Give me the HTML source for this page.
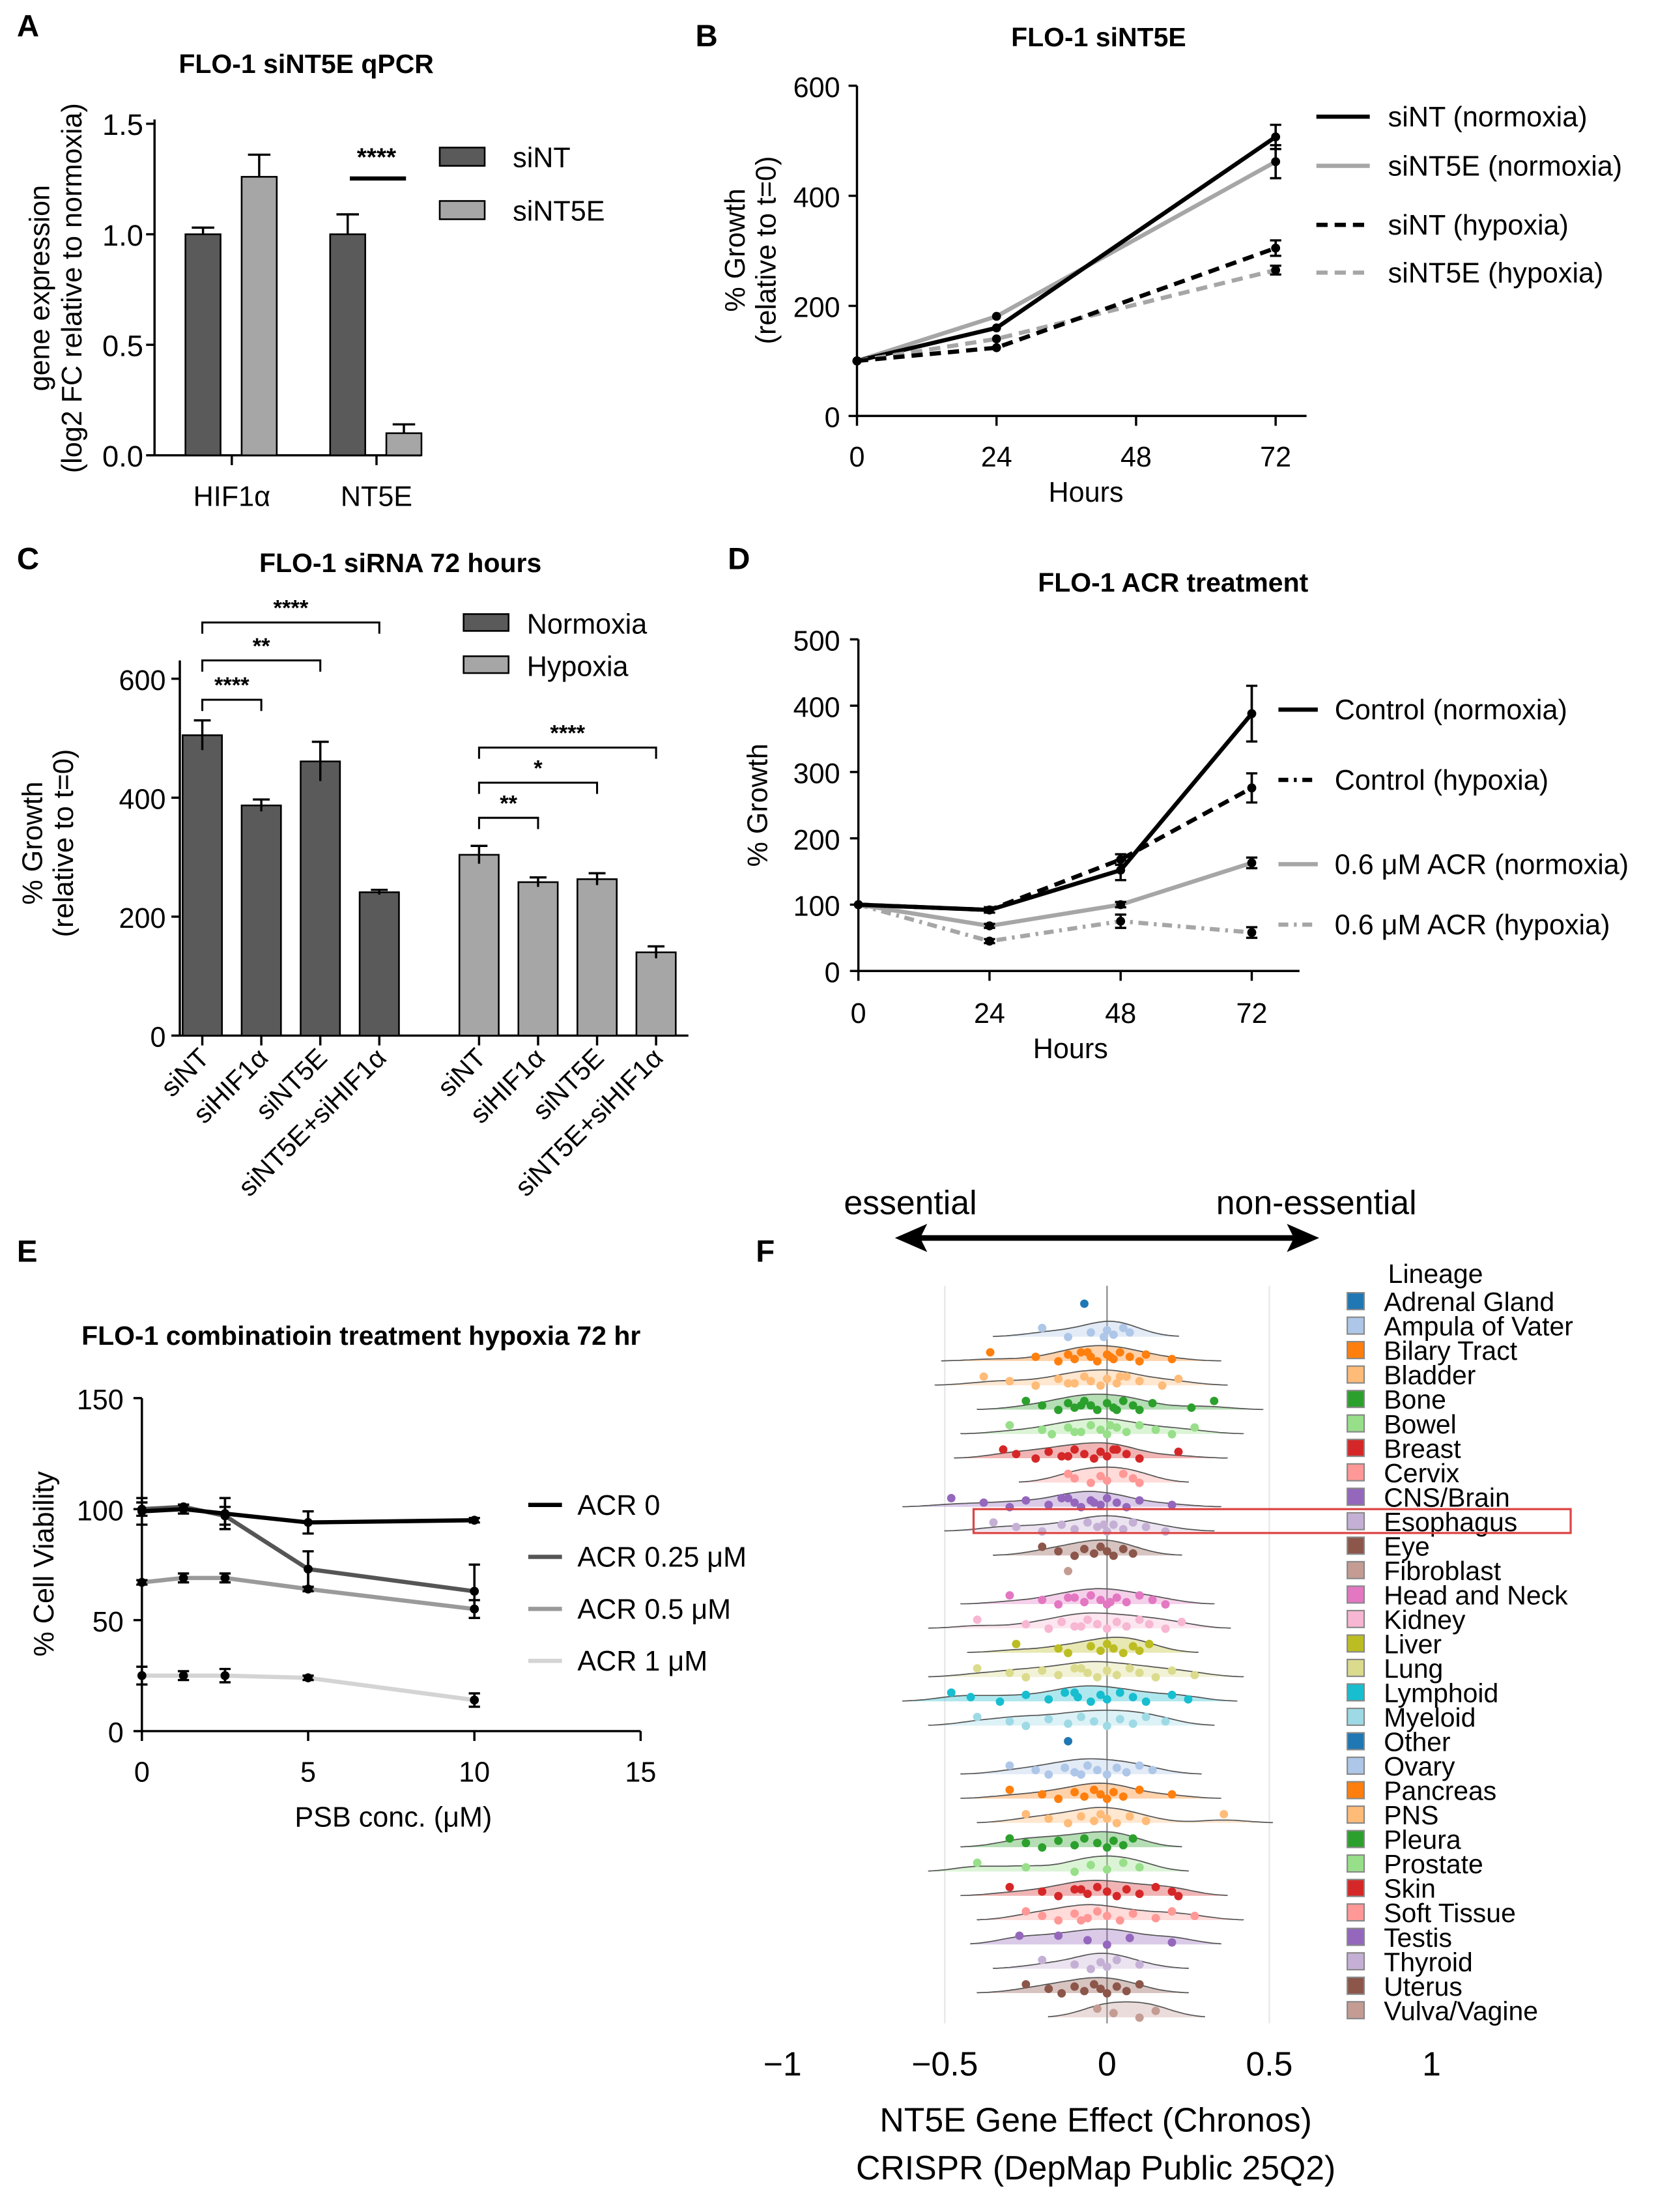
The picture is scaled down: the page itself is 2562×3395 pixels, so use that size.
<!DOCTYPE html>
<html><head><meta charset="utf-8"><style>
html,body{margin:0;padding:0;background:#fff}
svg{display:block;font-family:"Liberation Sans",sans-serif}
</style></head><body>
<svg id="fig" width="2562" height="3395" viewBox="0 0 1188 1574.2" xmlns="http://www.w3.org/2000/svg">
<rect width="1188" height="1575" fill="#fff"/>
<g font-weight="bold" font-size="22">
<text x="12" y="26">A</text>
<text x="495" y="33">B</text>
<text x="12" y="405">C</text>
<text x="518" y="405">D</text>
<text x="12" y="898">E</text>
<text x="538" y="898">F</text>
</g>
<g id="A"></g>
<g id="B"></g>
<g id="C"></g>
<g id="D"></g>
<g id="E"></g>
<g id="F"></g>
</svg>
<script>
const NS="http://www.w3.org/2000/svg";
function mk(tag,attrs,parent,txt){const e=document.createElementNS(NS,tag);for(const k in attrs)e.setAttribute(k,attrs[k]);if(txt!==undefined)e.textContent=txt;parent.appendChild(e);return e;}

// ---------- Panel A data ----------
const aCats=["HIF1\u03b1","NT5E"];
const aSiNT=[1.0,1.0];
const aSiNTErr=[0.03,0.09];
const aSiNT5E=[1.26,0.10];
const aSiNT5EErr=[0.10,0.04];
const aTicks=[0,0.5,1.0,1.5];
const aTickLabels=["0.0","0.5","1.0","1.5"];
// ---------- Panel B data ----------
const bHours=[0,24,72];
const bSiNTNorm=[100,160,507];
const bSiNT5ENorm=[100,181,462];
const bSiNTHyp=[100,124,305];
const bSiNT5EHyp=[100,140,265];
const bErr72=[22,30,14,8];
const bYTicks=[0,200,400,600];
const bXTicks=[0,24,48,72];
// ---------- Panel C data ----------
const cCats=["siNT","siHIF1\u03b1","siNT5E","siNT5E+siHIF1\u03b1"];
const cNorm=[505,387,461,241];
const cNormErr=[25,10,33,4];
const cHyp=[304,258,263,140];
const cHypErr=[15,8,10,10];
const cYTicks=[0,200,400,600];
// ---------- Panel D data ----------
const dHours=[0,24,48,72];
const dCtrlNorm=[100,92,152,388];
const dCtrlNormErr=[0,4,15,42];
const dCtrlHyp=[100,92,168,276];
const dCtrlHypErr=[0,4,8,22];
const dAcrNorm=[100,68,100,163];
const dAcrNormErr=[0,3,4,8];
const dAcrHyp=[100,45,75,58];
const dAcrHypErr=[0,3,10,8];
const dYTicks=[0,100,200,300,400,500];
// ---------- Panel E data ----------
const eConc=[0,1.25,2.5,5,10];
const eAcr0=[99,100,98,94,95];
const eAcr0Err=[6,2,7,5,1];
const eAcr025=[100,101,97,73,63];
const eAcr025Err=[3,1,4,8,12];
const eAcr05=[67,69,69,64,55];
const eAcr05Err=[1,2,2,1,4];
const eAcr1=[25,25,25,24,14];
const eAcr1Err=[4,2,3,1,3];
const eXTicks=[0,5,10,15];
const eYTicks=[0,50,100,150];
// ---------- Panel F data ----------
const fLineages=["Adrenal Gland","Ampula of Vater","Bilary Tract","Bladder","Bone","Bowel","Breast","Cervix","CNS/Brain","Esophagus","Eye","Fibroblast","Head and Neck","Kidney","Liver","Lung","Lymphoid","Myeloid","Other","Ovary","Pancreas","PNS","Pleura","Prostate","Skin","Soft Tissue","Testis","Thyroid","Uterus","Vulva/Vagine"];
const fColors=["#1f77b4","#aec7e8","#ff7f0e","#ffbb78","#2ca02c","#98df8a","#d62728","#ff9896","#9467bd","#c5b0d5","#8c564b","#c49c94","#e377c2","#f7b6d2","#bcbd22","#dbdb8d","#17becf","#9edae5","#1f77b4","#aec7e8","#ff7f0e","#ffbb78","#2ca02c","#98df8a","#d62728","#ff9896","#9467bd","#c5b0d5","#8c564b","#c49c94"];
const fValues=[
[-0.07],
[-0.2,-0.05,-0.01,0.0,0.02,0.05,0.07,-0.12],
[-0.36,-0.22,-0.15,-0.12,-0.1,-0.08,-0.05,-0.03,0,0.02,0.04,0.07,0.1,0.12,0.2,-0.06,0.01],
[-0.38,-0.3,-0.22,-0.15,-0.1,-0.07,-0.05,-0.02,0,0.03,0.06,0.1,0.17,0.22,-0.12,0.04],
[-0.25,-0.2,-0.15,-0.12,-0.1,-0.07,-0.05,-0.03,0,0.02,0.05,0.08,0.1,0.14,0.26,0.33,-0.08,0.03],
[-0.3,-0.2,-0.17,-0.12,-0.08,-0.05,-0.02,0,0.03,0.06,0.1,0.15,0.2,0.27,-0.1,0.01],
[-0.32,-0.28,-0.22,-0.18,-0.14,-0.1,-0.07,-0.04,-0.02,0,0.03,0.06,0.1,0.22,-0.12,0.02],
[-0.12,-0.1,-0.05,-0.02,0.0,0.05,0.08,0.1],
[-0.48,-0.38,-0.3,-0.25,-0.18,-0.14,-0.1,-0.08,-0.05,-0.02,0,0.03,0.06,0.1,0.2,-0.12,-0.04],
[-0.35,-0.28,-0.2,-0.14,-0.1,-0.06,-0.03,0,0.02,0.05,0.08,0.12,0.18,-0.01],
[-0.2,-0.15,-0.1,-0.07,-0.04,-0.02,0,0.02,0.05,0.08],
[-0.12],
[-0.3,-0.2,-0.15,-0.1,-0.07,-0.05,-0.02,0,0.03,0.06,0.1,0.14,0.18,-0.12,0.01],
[-0.4,-0.25,-0.18,-0.14,-0.1,-0.06,-0.03,0,0.03,0.06,0.1,0.13,0.18,0.23,-0.08],
[-0.28,-0.15,-0.12,-0.05,-0.02,0,0.02,0.05,0.08,0.1,0.13],
[-0.4,-0.3,-0.25,-0.2,-0.15,-0.1,-0.06,-0.03,0,0.03,0.07,0.1,0.15,0.2,0.27,-0.08],
[-0.48,-0.42,-0.33,-0.25,-0.18,-0.13,-0.09,-0.05,-0.02,0,0.04,0.08,0.12,0.2,0.25,-0.1],
[-0.4,-0.3,-0.25,-0.18,-0.12,-0.08,-0.04,0,0.04,0.08,0.12,0.18],
[-0.12],
[-0.3,-0.22,-0.18,-0.13,-0.1,-0.06,-0.03,0,0.03,0.06,0.1,0.14,-0.08],
[-0.3,-0.2,-0.15,-0.1,-0.07,-0.04,-0.02,0,0.02,0.05,0.1,0.2],
[-0.25,-0.18,-0.12,-0.08,-0.04,-0.02,0,0.03,0.07,0.12,0.36],
[-0.3,-0.25,-0.2,-0.15,-0.1,-0.07,-0.03,0,0.02,0.05,0.08],
[-0.4,-0.25,-0.1,-0.05,0,0.05,0.1],
[-0.3,-0.2,-0.15,-0.1,-0.06,-0.03,0,0.03,0.06,0.1,0.15,0.2,0.22,-0.08],
[-0.25,-0.2,-0.15,-0.1,-0.06,-0.03,0,0.04,0.08,0.15,0.2,0.27,-0.08],
[-0.27,-0.06,0.0,0.07,0.2,-0.15],
[-0.2,-0.1,-0.05,-0.02,0,0.03,0.1],
[-0.25,-0.18,-0.14,-0.1,-0.07,-0.04,-0.02,0,0.03,0.06,0.1],
[-0.03,0.02,0.1,0.15]
];

// ---------- generic helpers ----------
function errBar(g,x,y1,y2,cap,color){
  const l=mk("line",{x1:x,y1:y1,x2:x,y2:y2,stroke:color,"stroke-width":1.6},g);
  
  
  const c=mk("line",{x1:x-cap,y1:y2,x2:x+cap,y2:y2,stroke:color,"stroke-width":1.6},g);
  
  
}
function txt(g,x,y,s,size,anchor,extra){
  const a={x:x,y:y,"font-size":size,"text-anchor":anchor||"start"};
  if(extra)for(const k in extra)a[k]=extra[k];
  return mk("text",a,g,s);
}
function series(g,xs,ys,errs,X,Y,color,dash,name,sw,lastCapOnly){
  const pts=xs.map((x,i)=>X(x)+","+Y(ys[i])).join(" ");
  const pl=mk("polyline",{points:pts,fill:"none",stroke:color,"stroke-width":sw||3,"stroke-dasharray":dash||"none"},g);
  
  
  xs.forEach((x,i)=>{
    if(errs&&errs[i]){errBar(g,X(x),Y(ys[i]-errs[i]),Y(ys[i]+errs[i]),4,"#000");errBar(g,X(x),Y(ys[i]+errs[i]),Y(ys[i]-errs[i]),4,"#000");}
    const c=mk("circle",{cx:X(x),cy:Y(ys[i]),r:3.2,fill:"#000"},g);
    
    
  });
}
function axisLine(g,x1,y1,x2,y2,name){
  const l=mk("line",{x1:x1,y1:y1,x2:x2,y2:y2,stroke:"#000","stroke-width":1.6},g);
  
  
}

// ---------- Panel A ----------
(function(){
  const g=document.getElementById("A");
  const Y=v=>324-v*157.3;
  txt(g,218,52,"FLO-1 siNT5E qPCR",19,"middle",{"font-weight":"bold"});
  axisLine(g,110,85,110,324,"y-axis");
  axisLine(g,110,324,300,324,"x-axis");
  aTicks.forEach((t,i)=>{axisLine(g,104,Y(t),110,Y(t),"y-tick");txt(g,102,Y(t)+8,aTickLabels[i],21,"end");});
  const ty=txt(g,0,0,"gene expression",20,"middle",{transform:"translate(35,205) rotate(-90)"});
  
  
  txt(g,0,0,"(log2 FC relative to normoxia)",20,"middle",{transform:"translate(58,205) rotate(-90)"});
  const centers=[165,268];
  aCats.forEach((c,i)=>{
    const cx=centers[i];
    const b1=mk("rect",{x:cx-33,y:Y(aSiNT[i]),width:25,height:324-Y(aSiNT[i]),fill:"#5a5a5a",stroke:"#000","stroke-width":1.2},g);
    
    
    errBar(g,cx-20.5,Y(aSiNT[i]),Y(aSiNT[i]+aSiNTErr[i]),8,"#000");
    const b2=mk("rect",{x:cx+7,y:Y(aSiNT5E[i]),width:25,height:324-Y(aSiNT5E[i]),fill:"#a6a6a6",stroke:"#000","stroke-width":1.2},g);
    
    
    errBar(g,cx+19.5,Y(aSiNT5E[i]),Y(aSiNT5E[i]+aSiNT5EErr[i]),8,"#000");
    axisLine(g,cx,324,cx,331,"x-tick");
    txt(g,cx,360,c,20,"middle");
  });
  mk("line",{x1:249,y1:127,x2:289,y2:127,stroke:"#000","stroke-width":3},g);
  txt(g,268,118,"****",18,"middle",{"font-weight":"bold"});
  const l1=mk("rect",{x:313,y:105,width:32,height:13,fill:"#5a5a5a",stroke:"#000","stroke-width":1.2},g);
  
  
  txt(g,365,119,"siNT",20);
  const l2=mk("rect",{x:313,y:143,width:32,height:13,fill:"#a6a6a6",stroke:"#000","stroke-width":1.2},g);
  
  
  txt(g,365,157,"siNT5E",20);
})();

// ---------- Panel B ----------
(function(){
  const g=document.getElementById("B");
  const X=h=>610+h*(298/72), Y=v=>296-v*0.3917;
  txt(g,782,33,"FLO-1 siNT5E",19,"middle",{"font-weight":"bold"});
  axisLine(g,610,61,610,296,"y-axis");
  axisLine(g,610,296,930,296,"x-axis");
  bYTicks.forEach(t=>{axisLine(g,604,Y(t),610,Y(t),"y-tick");txt(g,598,Y(t)+8,String(t),20,"end");});
  bXTicks.forEach(t=>{axisLine(g,X(t),296,X(t),303,"x-tick");txt(g,X(t),332,String(t),20,"middle");});
  txt(g,773,357,"Hours",20,"middle");
  txt(g,0,0,"% Growth",20,"middle",{transform:"translate(530,178) rotate(-90)"});
  txt(g,0,0,"(relative to t=0)",20,"middle",{transform:"translate(552,178) rotate(-90)"});
  series(g,bHours,bSiNT5ENorm,[0,0,bErr72[1]],X,Y,"#a6a6a6","","sint5e-normoxia");
  series(g,bHours,bSiNTNorm,[0,0,bErr72[0]],X,Y,"#000","","sint-normoxia");
  series(g,bHours,bSiNT5EHyp,[0,0,bErr72[3]],X,Y,"#a6a6a6","8,5","sint5e-hypoxia");
  series(g,bHours,bSiNTHyp,[0,0,bErr72[2]],X,Y,"#000","8,5","sint-hypoxia");
  const leg=[["siNT (normoxia)","#000",""],["siNT5E (normoxia)","#a6a6a6",""],["siNT (hypoxia)","#000","8,5"],["siNT5E (hypoxia)","#a6a6a6","8,5"]];
  const ly=[83,118,160,194];
  leg.forEach((L,i)=>{
    const l=mk("line",{x1:937,y1:ly[i],x2:975,y2:ly[i],stroke:L[1],"stroke-width":3,"stroke-dasharray":L[2]||"none"},g);
    
    
    txt(g,988,ly[i]+7,L[0],20);
  });
})();

// ---------- Panel C ----------
(function(){
  const g=document.getElementById("C");
  const Y=v=>737-v*0.4233;
  txt(g,285,407,"FLO-1 siRNA 72 hours",19,"middle",{"font-weight":"bold"});
  axisLine(g,128,470,128,737,"y-axis");
  axisLine(g,128,737,490,737,"x-axis");
  cYTicks.forEach(t=>{axisLine(g,122,Y(t),128,Y(t),"y-tick");txt(g,118,Y(t)+8,String(t),20,"end");});
  txt(g,0,0,"% Growth",20,"middle",{transform:"translate(30,600) rotate(-90)"});
  txt(g,0,0,"(relative to t=0)",20,"middle",{transform:"translate(52,600) rotate(-90)"});
  const nx=[144,186,228,270], hx=[341,383,425,467];
  function grp(xs,vals,errs,fill,nm){
    xs.forEach((cx,i)=>{
      const b=mk("rect",{x:cx-14,y:Y(vals[i]),width:28,height:737-Y(vals[i]),fill:fill,stroke:"#000","stroke-width":1.2},g);
      
      
      errBar(g,cx,Y(vals[i]-errs[i]),Y(vals[i]+errs[i]),6,"#000");
      axisLine(g,cx,737,cx,744,"x-tick");
      const t=txt(g,0,0,cCats[i],19,"end",{transform:"translate("+(cx+6)+",754) rotate(-45)"});
      
      
    });
  }
  grp(nx,cNorm,cNormErr,"#5a5a5a","normoxia");
  grp(hx,cHyp,cHypErr,"#a6a6a6","hypoxia");
  function br(x1,x2,y,s){
    mk("polyline",{points:x1+","+(y+8)+" "+x1+","+y+" "+x2+","+y+" "+x2+","+(y+8),fill:"none",stroke:"#000","stroke-width":1.4},g);
    txt(g,(x1+x2)/2,y-5,s,16,"middle",{"font-weight":"bold"});
  }
  br(144,186,498,"****");br(144,228,470,"**");br(144,270,443,"****");
  br(341,383,582,"**");br(341,425,557,"*");br(341,467,532,"****");
  mk("rect",{x:330,y:437,width:32,height:12,fill:"#5a5a5a",stroke:"#000","stroke-width":1.2},g);
  txt(g,375,451,"Normoxia",20);
  mk("rect",{x:330,y:467,width:32,height:12,fill:"#a6a6a6",stroke:"#000","stroke-width":1.2},g);
  txt(g,375,481,"Hypoxia",20);
})();

// ---------- Panel D ----------
(function(){
  const g=document.getElementById("D");
  const X=h=>611+h*(280/72), Y=v=>691-v*0.472;
  txt(g,835,421,"FLO-1 ACR treatment",19,"middle",{"font-weight":"bold"});
  axisLine(g,611,455,611,691,"y-axis");
  axisLine(g,611,691,925,691,"x-axis");
  dYTicks.forEach(t=>{axisLine(g,605,Y(t),611,Y(t),"y-tick");txt(g,598,Y(t)+8,String(t),20,"end");});
  dHours.forEach(t=>{axisLine(g,X(t),691,X(t),698,"x-tick");txt(g,X(t),728,String(t),20,"middle");});
  txt(g,762,753,"Hours",20,"middle");
  txt(g,0,0,"% Growth",20,"middle",{transform:"translate(546,573) rotate(-90)"});
  series(g,dHours,dAcrHyp,dAcrHypErr,X,Y,"#a6a6a6","7,4,2,4","acr-hypoxia");
  series(g,dHours,dAcrNorm,dAcrNormErr,X,Y,"#a6a6a6","","acr-normoxia");
  series(g,dHours,dCtrlHyp,dCtrlHypErr,X,Y,"#000","8,5","control-hypoxia");
  series(g,dHours,dCtrlNorm,dCtrlNormErr,X,Y,"#000","","control-normoxia");
  const leg=[["Control (normoxia)","#000",""],["Control (hypoxia)","#000","7,4,2,4"],["0.6 \u03bcM ACR (normoxia)","#a6a6a6",""],["0.6 \u03bcM ACR (hypoxia)","#a6a6a6","7,4,2,4"]];
  const ly=[505,555,615,658];
  leg.forEach((L,i)=>{
    const l=mk("line",{x1:910,y1:ly[i],x2:938,y2:ly[i],stroke:L[1],"stroke-width":3,"stroke-dasharray":L[2]||"none"},g);
    
    
    txt(g,950,ly[i]+7,L[0],20);
  });
})();

// ---------- Panel E ----------
(function(){
  const g=document.getElementById("E");
  const X=c=>101+c*(355/15), Y=v=>1232-v*1.58;
  txt(g,58,957,"FLO-1  combinatioin treatment hypoxia 72 hr",19,"start",{"font-weight":"bold"});
  axisLine(g,101,995,101,1232,"y-axis");
  axisLine(g,101,1232,456,1232,"x-axis");
  eYTicks.forEach(t=>{axisLine(g,95,Y(t),101,Y(t),"y-tick");txt(g,88,Y(t)+8,String(t),20,"end");});
  eXTicks.forEach(t=>{axisLine(g,X(t),1232,X(t),1239,"x-tick");txt(g,X(t),1268,String(t),20,"middle");});
  txt(g,280,1300,"PSB conc. (\u03bcM)",20,"middle");
  txt(g,0,0,"% Cell Viability",20,"middle",{transform:"translate(38,1113) rotate(-90)"});
  series(g,eConc,eAcr1,eAcr1Err,X,Y,"#d4d4d4","","acr-1");
  series(g,eConc,eAcr05,eAcr05Err,X,Y,"#9a9a9a","","acr-0-5");
  series(g,eConc,eAcr025,eAcr025Err,X,Y,"#555","","acr-0-25");
  series(g,eConc,eAcr0,eAcr0Err,X,Y,"#000","","acr-0");
  const leg=[["ACR 0","#000"],["ACR 0.25 \u03bcM","#555"],["ACR 0.5 \u03bcM","#9a9a9a"],["ACR 1 \u03bcM","#d4d4d4"]];
  const ly=[1071,1108,1145,1182];
  leg.forEach((L,i)=>{
    const l=mk("line",{x1:376,y1:ly[i],x2:400,y2:ly[i],stroke:L[1],"stroke-width":3},g);
    
    
    txt(g,411,ly[i]+7,L[0],20);
  });
})();

// ---------- Panel F ----------
(function(){
  const g=document.getElementById("F");
  const X=v=>788+v*231;
  const rowY=i=>930+i*17.3;
  txt(g,648,864,"essential",24,"middle");
  txt(g,937,864,"non-essential",24,"middle");
  const ar=mk("line",{x1:652,y1:881,x2:924,y2:881,stroke:"#000","stroke-width":4},g);
  
  
  mk("polygon",{points:"637,881 660,871 655,881 660,891",fill:"#000"},g);
  mk("polygon",{points:"939,881 916,871 921,881 916,891",fill:"#000"},g);
  [-0.5,0.5].forEach(v=>{const l=mk("line",{x1:X(v),y1:915,x2:X(v),y2:1440,stroke:"#e6e6e6","stroke-width":1},g);});
  const z=mk("line",{x1:X(0),y1:915,x2:X(0),y2:1440,stroke:"#888","stroke-width":1},g);
  
  
  const ticks=[-1,-0.5,0,0.5,1];
  ticks.forEach(t=>{const s=(t<0?"\u2212":"")+Math.abs(t);txt(g,X(t),1477,s,24,"middle");});
  txt(g,780,1517,"NT5E Gene Effect (Chronos)",24,"middle");
  txt(g,780,1551,"CRISPR (DepMap Public 25Q2)",24,"middle");
  fValues.forEach((vals,i)=>{
    const y=rowY(i)+4;
    if(vals.length>2){
      const lo=Math.min(...vals)-0.15, hi=Math.max(...vals)+0.15, bw=0.07;
      let pts=[];let maxd=0;const ds=[];
      for(let k=0;k<=60;k++){const v=lo+(hi-lo)*k/60;let d=0;vals.forEach(u=>{d+=Math.exp(-0.5*((v-u)/bw)**2);});ds.push([v,d]);if(d>maxd)maxd=d;}
      ds.forEach(([v,d])=>pts.push(X(v).toFixed(1)+","+(y-d/maxd*11).toFixed(1)));
      const p=mk("path",{d:"M"+X(lo)+","+y+" L"+pts.join(" L")+" L"+X(hi)+","+y,fill:fColors[i],"fill-opacity":0.35,stroke:"#555","stroke-width":0.8},g);
      
      
    }
    vals.forEach((v,j)=>{
      const off=((j*7)%5-2)*1.6;
      const c=mk("circle",{cx:X(v),cy:y-3+off,r:3,fill:fColors[i]},g);
      
      
    });
    // legend
    const ly=926+i*17.4;
    const sq=mk("rect",{x:959,y:ly-6,width:12,height:12,fill:fColors[i],stroke:"#888","stroke-width":1},g);
    
    
    txt(g,985,ly+7,fLineages[i],19);
  });
  txt(g,988,913,"Lineage",19);
  const hl=mk("rect",{x:693,y:1074,width:425,height:17,fill:"none",stroke:"#d44","stroke-width":1.5},g);
  
  
})();
</script>
</body></html>
